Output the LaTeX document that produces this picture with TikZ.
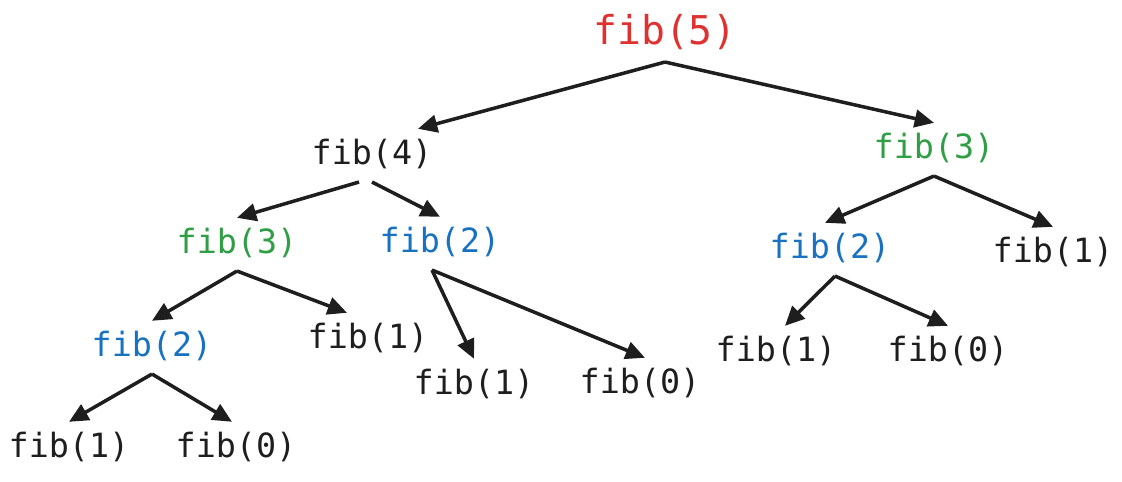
\documentclass[tikz,border=0pt]{standalone}
\usepackage{fontspec}
\setmonofont{DejaVu Sans Mono}
\usetikzlibrary{arrows.meta}
\definecolor{fibred}{HTML}{E03131}
\definecolor{fibgreen}{HTML}{2F9E44}
\definecolor{fibblue}{HTML}{1971C2}
\definecolor{fibink}{HTML}{1E1E1E}
\tikzset{
  call/.style={font=\ttfamily\fontsize{19}{19}\selectfont, text=fibink, inner sep=0pt,
    anchor=base, text height=20.4pt, text depth=9.5pt},
  top/.style={call, font=\ttfamily\fontsize{22.6}{22.6}\selectfont, text=fibred},
  arr/.style={draw=fibink, line width=2pt, -{Triangle[length=11pt,width=10pt]}}
}
\begin{document}
\begin{tikzpicture}[x=0.02cm,y=-0.02cm]
\useasboundingbox (0,0) rectangle (1122,482);
\node[top] (fib5) at (665,45) {fib(5)};
\node[call] (fib4) at (372,165) {fib(4)};
\node[call,text=fibgreen] (fib3r) at (934,159) {fib(3)};
\node[call,text=fibgreen] (fib3l) at (237,254) {fib(3)};
\node[call,text=fibblue] (fib2m) at (440,253) {fib(2)};
\node[call,text=fibblue] (fib2r) at (830,259) {fib(2)};
\node[call] (fib1r) at (1053,263) {fib(1)};
\node[call,text=fibblue] (fib2l) at (152,357) {fib(2)};
\node[call] (fib1a) at (368,349) {fib(1)};
\node[call] (fib1b) at (474,395) {fib(1)};
\node[call] (fib0b) at (640,394) {fib(0)};
\node[call] (fib1d) at (776,362) {fib(1)};
\node[call] (fib0d) at (948,362) {fib(0)};
\node[call] (fib1c) at (69,458) {fib(1)};
\node[call] (fib0c) at (236,458) {fib(0)};
\draw[arr] (fib5.south) -- ([xshift=0.92cm]fib4.north);
\draw[arr] (fib5.south) -- (fib3r.north);
\draw[arr] ([xshift=-0.26cm]fib4.south) -- (fib3l.north);
\draw[arr] (fib4.south) -- (fib2m.north);
\draw[arr] (fib3l.south) -- (fib2l.north);
\draw[arr] (fib3l.south) -- ([xshift=-0.42cm]fib1a.north);
\draw[arr] ([xshift=-0.16cm]fib2m.south) -- (fib1b.north);
\draw[arr] ([xshift=-0.16cm]fib2m.south) -- ([xshift=0.1cm]fib0b.north);
\draw[arr] (fib2l.south) -- (fib1c.north);
\draw[arr] (fib2l.south) -- ([xshift=-0.08cm]fib0c.north);
\draw[arr] (fib3r.south) -- ([xshift=-0.1cm]fib2r.north);
\draw[arr] (fib3r.south) -- (fib1r.north);
\draw[arr] ([xshift=0.1cm]fib2r.south) -- ([xshift=0.18cm]fib1d.north);
\draw[arr] ([xshift=0.1cm]fib2r.south) -- (fib0d.north);
\end{tikzpicture}
\end{document}
